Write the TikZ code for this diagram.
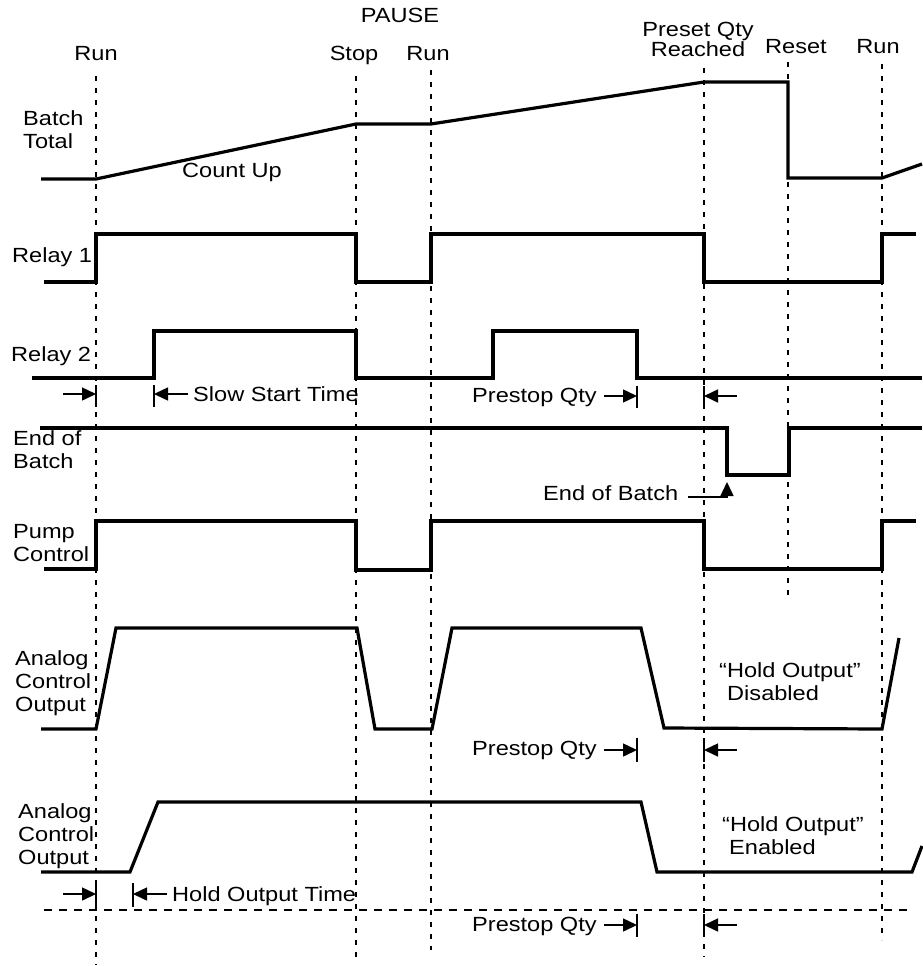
\documentclass[tikz,border=0pt]{standalone}
\usepackage{fontspec}
\setmainfont{Liberation Sans}[FakeStretch=1.15]
\usepackage{tikz}
\usetikzlibrary{arrows.meta}

\tikzset{
  sig/.style={line width=3.2pt, line join=miter},
  marker/.style={line width=1.4pt, dash pattern=on 5pt off 7pt},
  refline/.style={line width=1.3pt, dash pattern=on 8pt off 7pt},
  lbl/.style={inner sep=0pt, font=\fontsize{20.5}{23}\selectfont},
  dimarrow/.style={-{Triangle[length=14pt,width=13pt]}, line width=1.5pt},
  dimtick/.style={line width=1.3pt}
}

\begin{document}
\begin{tikzpicture}[x=1pt,y=-1pt]
    \useasboundingbox (0,0) rectangle (922,966);

    % event markers
    \foreach \xx/\ya/\yb in {96/76/965, 356/76/960, 431/70/950, 704/68/957, 788/62/597, 882/64/940}
        \draw[marker] (\xx,\ya) -- (\xx,\yb);

    % events
    \node[lbl, anchor=base] (pause) at (400,23) {PAUSE};
    \node[lbl, anchor=base] (run1) at (96,61) {Run};
    \node[lbl, anchor=base] (stop) at (354,61) {Stop};
    \node[lbl, anchor=base] (run2) at (428,61) {Run};
    \node[lbl, anchor=north, align=center, font=\fontsize{20.5}{18}\selectfont] (preset) at (698,21.5) {Preset Qty\\Reached};
    \node[lbl, anchor=base] (reset) at (796,54) {Reset};
    \node[lbl, anchor=base] (run3) at (878,54) {Run};

    % signal names
    \node[lbl, anchor=north west, align=left] (total) at (23,110.5) {Batch\\Total};
    \node[lbl, anchor=base west] (relay1) at (12,262) {Relay 1};
    \node[lbl, anchor=base west] (relay2) at (11,361) {Relay 2};
    \node[lbl, anchor=north west, align=left] (endbatch) at (13,430.5) {End of\\Batch};
    \node[lbl, anchor=north west, align=left] (pump) at (13,524.5) {Pump\\Control};
    \node[lbl, anchor=north west, align=left] (aout1) at (15,650.5) {Analog\\Control\\Output};
    \node[lbl, anchor=north west, align=left] (aout2) at (18,803.5) {Analog\\Control\\Output};

    % batch total
    \draw[sig] (41,179) -- (96,179) -- (356,124) -- (431,124) -- (704,82) -- (788,82) -- (788,178) -- (882,178) -- (922,164);
    \node[lbl, anchor=base] (countup) at (232,177) {Count Up};

    % relay 1
    \draw[sig] (44,282) -- (96,282) -- (96,234) -- (356,234) -- (356,282) -- (431,282) -- (431,234) -- (704,234) -- (704,282) -- (882,282) -- (882,234) -- (916,234);

    % relay 2
    \draw[sig] (32,378) -- (154,378) -- (154,331) -- (356,331) -- (356,378) -- (493,378) -- (493,331) -- (637,331) -- (637,378) -- (922,378);
    \draw[dimarrow] (63,394) -- (96,394);
    \draw[dimtick] (96,385) -- (96,407);
    \draw[dimtick] (154,385) -- (154,407);
    \draw[dimarrow] (188,394) -- (154,394);
    \node[lbl, anchor=base west] (slowstart) at (193,401) {Slow Start Time};
    \node[lbl, anchor=base west] (prestop1) at (472,402) {Prestop Qty};
    \draw[dimarrow] (604,396) -- (637,396);
    \draw[dimtick] (637,386) -- (637,408);
    \draw[dimtick] (704,386) -- (704,408);
    \draw[dimarrow] (737,396) -- (704,396);

    % end of batch
    \draw[sig] (40,428) -- (727,428) -- (727,475) -- (789,475) -- (789,428) -- (922,428);
    \node[lbl, anchor=base west] (eobnote) at (543,500) {End of Batch};
    \draw[dimarrow] (688,497) -- (727,497) -- (727,482);

    % pump control
    \draw[sig] (44,569) -- (96,569) -- (96,521) -- (356,521) -- (356,570) -- (431,570) -- (431,521) -- (704,521) -- (704,569) -- (882,569) -- (882,521) -- (916,521);

    % analog output, hold disabled
    \draw[sig] (41,729) -- (96,729) -- (116,628) -- (357,628) -- (375,729) -- (432,729) -- (452,628) -- (641,628) -- (664,728) -- (882,729) -- (899,638);
    \node[lbl, anchor=north west, align=left] (holdoff) at (719,662.5) {``Hold Output''\\\hspace*{8pt}Disabled};
    \node[lbl, anchor=base west] (prestop2) at (472,755) {Prestop Qty};
    \draw[dimarrow] (604,750) -- (637,750);
    \draw[dimtick] (637,738) -- (637,762);
    \draw[dimtick] (704,738) -- (704,762);
    \draw[dimarrow] (737,750) -- (704,750);

    % analog output, hold enabled
    \draw[sig] (41,872) -- (130,872) -- (158,802) -- (641,802) -- (657,872) -- (912,872) -- (922,846);
    \node[lbl, anchor=north west, align=left] (holdon) at (722,816.5) {``Hold Output''\\\hspace*{7pt}Enabled};
    \draw[dimarrow] (63,894) -- (96,894);
    \draw[dimtick] (96,883) -- (96,907);
    \draw[dimtick] (133,883) -- (133,907);
    \draw[dimarrow] (167,894) -- (133,894);
    \node[lbl, anchor=base west] (holdtime) at (172,901) {Hold Output Time};
    \draw[refline] (44,910) -- (913,910);
    \node[lbl, anchor=base west] (prestop3) at (472,931) {Prestop Qty};
    \draw[dimarrow] (604,925) -- (637,925);
    \draw[dimtick] (637,914) -- (637,937);
    \draw[dimtick] (704,914) -- (704,937);
    \draw[dimarrow] (737,925) -- (704,925);
\end{tikzpicture}
\end{document}
